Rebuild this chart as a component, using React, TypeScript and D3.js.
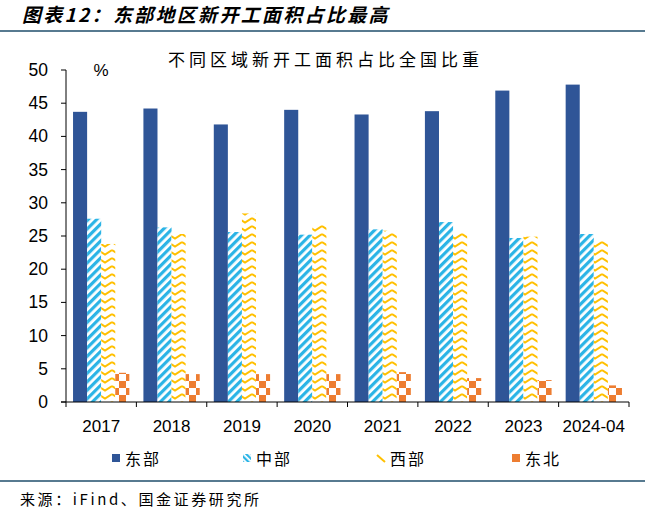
import React from "react";
import * as d3 from "d3";

const categories = ["2017", "2018", "2019", "2020", "2021", "2022", "2023", "2024-04"];
const seriesNames = ["东部", "中部", "西部", "东北"];
const east = [43.7, 44.2, 41.8, 44.0, 43.3, 43.8, 46.9, 47.8];
const central = [27.6, 26.3, 25.6, 25.2, 26.0, 27.1, 24.7, 25.3];
const west = [23.8, 25.3, 28.4, 26.8, 25.8, 25.5, 24.9, 24.4];
const northeast = [4.4, 4.2, 4.2, 4.2, 4.5, 3.6, 3.3, 2.5];
const yTicks = [0, 5, 10, 15, 20, 25, 30, 35, 40, 45, 50];

const W = 656, H = 517;
const M = { left: 66, right: 629, top: 70, bottom: 402 };

export default function App() {
  const x = d3.scaleBand<string>().domain(categories).range([M.left, M.right]).paddingInner(0).paddingOuter(0);
  const inner = d3.scaleBand<number>().domain([0, 1, 2, 3]).range([0, x.bandwidth()]).paddingOuter(0.5).paddingInner(0);
  const y = d3.scaleLinear().domain([0, 50]).range([M.bottom, M.top]);
  const data = [east, central, west, northeast];
  const fills = ["#2F5597", "url(#pStripe)", "url(#pChevron)", "url(#pCheck)"];
  const legendX = [112, 243, 377, 512];
  const cjk = "'Noto Sans CJK SC', sans-serif";
  const lat = "'Liberation Sans', Arial, sans-serif";
  return (
    <svg width={W} height={H} style={{ position: "absolute", left: 0, top: 0, background: "#fff" }}>
      <defs>
        <pattern id="pStripe" patternUnits="userSpaceOnUse" width="6" height="6" patternTransform="rotate(45)">
          <rect width="6" height="6" fill="#fff" />
          <rect width="3.2" height="6" fill="#2BB4E6" />
        </pattern>
        <pattern id="pChevron" patternUnits="userSpaceOnUse" width="14" height="8">
          <rect width="14" height="8" fill="#fff" />
          <path d="M0,2 L7,6.5 L14,2" fill="none" stroke="#FFC000" strokeWidth="2" />
        </pattern>
        <pattern id="pCheck" patternUnits="userSpaceOnUse" width="14" height="14" x={0} y={402}>
          <rect width="14" height="14" fill="#fff" />
          <rect width="7" height="7" fill="#ED7D31" />
          <rect x="7" y="7" width="7" height="7" fill="#ED7D31" />
        </pattern>
        <pattern id="pStripeL" patternUnits="userSpaceOnUse" width="4" height="4" patternTransform="rotate(-45)">
          <rect width="4" height="4" fill="#fff" />
          <rect width="2.2" height="4" fill="#2BB4E6" />
        </pattern>
      </defs>
      <text x={22} y={22} fontFamily={cjk} fontSize={19} fontWeight="bold" fontStyle="italic" fill="#000" letterSpacing={2.3}>图表12：东部地区新开工面积占比最高</text>
      <line x1={0} x2={645} y1={31} y2={31} stroke="#1F4E6B" strokeWidth={1.5} />
      <text x={168} y={66} fontFamily={cjk} fontSize={17} fill="#000" letterSpacing={4}>不同区域新开工面积占比全国比重</text>
      <text x={101} y={76} textAnchor="middle" fontFamily={lat} fontSize={17} fill="#000">%</text>
      {data.map((vals, si) => (
        <g key={si}>
          {vals.map((v, i) => (
            <rect key={i} x={(x(categories[i]) as number) + (inner(si) as number)} y={y(v)} width={inner.bandwidth()} height={y(0) - y(v)} fill={fills[si]} />
          ))}
        </g>
      ))}
      <line x1={M.left} x2={M.left} y1={M.top} y2={M.bottom} stroke="#000" strokeWidth={1} />
      {yTicks.map((t) => (
        <g key={t}>
          <line x1={M.left - 5} x2={M.left} y1={y(t)} y2={y(t)} stroke="#000" />
          <text x={48} y={y(t) + 6} textAnchor="end" fontFamily={lat} fontSize={17.5} fill="#000">{t}</text>
        </g>
      ))}
      <line x1={M.left - 5} x2={M.right} y1={M.bottom} y2={M.bottom} stroke="#000" />
      {categories.map((c, i) => (
        <line key={"t" + i} x1={x(c) as number} x2={x(c) as number} y1={M.bottom} y2={M.bottom + 5} stroke="#000" />
      ))}
      <line x1={M.right} x2={M.right} y1={M.bottom} y2={M.bottom + 5} stroke="#000" />
      {categories.map((c) => (
        <text key={c} x={(x(c) as number) + x.bandwidth() / 2} y={432} textAnchor="middle" fontFamily={lat} fontSize={17} fill="#000">{c}</text>
      ))}
      {seriesNames.map((n, i) => (
        <g key={n}>
          <rect x={legendX[i]} y={454} width={8} height={8} fill={i === 0 ? "#2F5597" : i === 1 ? "url(#pStripeL)" : i === 3 ? "#ED7D31" : "none"} />
          {i === 2 && <line x1={legendX[i]} y1={455} x2={legendX[i] + 8} y2={462} stroke="#FFC000" strokeWidth={2} />}
          <text x={legendX[i] + 13} y={465} fontFamily={cjk} fontSize={16} fill="#000" letterSpacing={2}>{n}</text>
        </g>
      ))}
      <line x1={0} x2={645} y1={481} y2={481} stroke="#1F4E6B" strokeWidth={1.5} />
      <text x={20} y={505} fontFamily={cjk} fontSize={15} fill="#000" letterSpacing={2.6}>来源：iFind、国金证券研究所</text>
    </svg>
  );
}
